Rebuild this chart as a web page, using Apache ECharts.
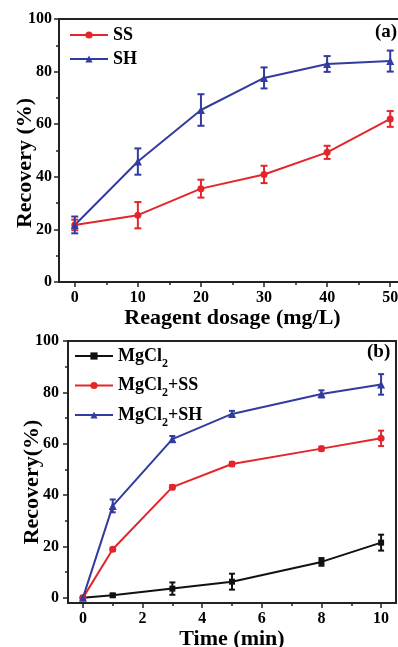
<!DOCTYPE html>
<html>
<head>
<meta charset="utf-8">
<script src="https://cdn.jsdelivr.net/npm/echarts@6/dist/echarts.min.js"></script>
<style>
  html, body { margin: 0; padding: 0; background: #fff; }
  #chart { width: 398px; height: 647px; }
</style>
</head>
<body>
<div id="chart"></div>
<script>
// Panel (a): recovery vs reagent dosage
const dosage = [0, 10, 20, 30, 40, 50];
const ssRecovery = [21.7, 25.4, 35.5, 40.9, 49.3, 62.0];
const ssError = [2.0, 5.0, 3.4, 3.3, 2.5, 3.0];
const shRecovery = [21.7, 45.8, 65.4, 77.6, 82.9, 84.0];
const shError = [3.2, 5.0, 6.0, 4.0, 3.0, 4.0];

// Panel (b): recovery vs flotation time
const time = [0, 1, 3, 5, 8, 10];
const mgRecovery = [0, 1.0, 3.6, 6.3, 14.0, 21.5];
const mgError = [0, 0.5, 2.4, 3.1, 1.5, 3.1];
const mgSsRecovery = [0, 18.9, 43.1, 52.1, 58.1, 62.1];
const mgSsError = [0, 0.6, 0.8, 0.8, 0.8, 3.0];
const mgShRecovery = [0, 35.8, 61.8, 71.6, 79.4, 83.1];
const mgShError = [0, 2.5, 1.2, 1.2, 1.4, 4.0];

// Tick positions
const topXTicks = [0, 10, 20, 30, 40, 50];
const topXMinor = [5, 15, 25, 35, 45];
const botXTicks = [0, 2, 4, 6, 8, 10];
const botXMinor = [1, 3, 5, 7, 9];
const yTicks = [0, 20, 40, 60, 80, 100];
const yMinor = [10, 30, 50, 70, 90];

const RED = '#e3262b';
const BLUE = '#323c9e';
const BLACK = '#111111';
const AXIS = '#222222';
const FONT = '"Liberation Serif", "Times New Roman", serif';

const chart = echarts.init(document.getElementById('chart'), null, { renderer: 'canvas' });

function pairs(xs, ys) { return xs.map((x, i) => [x, ys[i]]); }
function bars(xs, ys, es) { return xs.map((x, i) => [x, ys[i] - es[i], ys[i] + es[i]]); }

function errorSeries(xIdx, yIdx, data, color, cap) {
  return {
    type: 'custom',
    xAxisIndex: xIdx,
    yAxisIndex: yIdx,
    z: 2,
    silent: true,
    data: data,
    encode: { x: 0, y: [1, 2] },
    renderItem: function (params, api) {
      const lo = api.coord([api.value(0), api.value(1)]);
      const hi = api.coord([api.value(0), api.value(2)]);
      const st = { stroke: color, lineWidth: 2 };
      return {
        type: 'group',
        children: [
          { type: 'line', shape: { x1: lo[0], y1: lo[1], x2: hi[0], y2: hi[1] }, style: st },
          { type: 'line', shape: { x1: lo[0] - cap, y1: lo[1], x2: lo[0] + cap, y2: lo[1] }, style: st },
          { type: 'line', shape: { x1: hi[0] - cap, y1: hi[1], x2: hi[0] + cap, y2: hi[1] }, style: st }
        ]
      };
    }
  };
}

function lineSeries(name, xIdx, yIdx, data, color, symbol, size) {
  return {
    name: name,
    type: 'line',
    xAxisIndex: xIdx,
    yAxisIndex: yIdx,
    z: 3,
    data: data,
    symbol: symbol,
    symbolSize: size,
    showAllSymbol: true,
    itemStyle: { color: color },
    lineStyle: { color: color, width: 2 },
    emphasis: { disabled: true }
  };
}

function mainX(gridIndex, min, max, ticks, name, gap) {
  return {
    type: 'value', gridIndex: gridIndex, min: min, max: max, position: 'bottom',
    name: name, nameLocation: 'middle', nameGap: gap,
    nameTextStyle: { fontFamily: FONT, fontWeight: 'bold', fontSize: 22, color: '#000' },
    axisLine: { show: true, onZero: false, lineStyle: { color: AXIS, width: 2 } },
    axisTick: { show: true, inside: false, length: 5, customValues: ticks, lineStyle: { color: AXIS, width: 1.5 } },
    axisLabel: { show: true, margin: 8, customValues: ticks, fontFamily: FONT, fontWeight: 'bold', fontSize: 16, color: '#000' },
    splitLine: { show: false }
  };
}
function minorX(gridIndex, min, max, ticks) {
  return {
    type: 'value', gridIndex: gridIndex, min: min, max: max, position: 'bottom',
    axisLine: { show: false, onZero: false },
    axisTick: { show: true, inside: false, length: 3, customValues: ticks, lineStyle: { color: AXIS, width: 1.5 } },
    axisLabel: { show: false, customValues: ticks },
    splitLine: { show: false }
  };
}
function mainY(gridIndex, min, max, ticks, margin) {
  return {
    type: 'value', gridIndex: gridIndex, min: min, max: max, position: 'left',
    axisLine: { show: true, onZero: false, lineStyle: { color: AXIS, width: 2 } },
    axisTick: { show: true, inside: false, length: 5, customValues: ticks, lineStyle: { color: AXIS, width: 1.5 } },
    axisLabel: { show: true, margin: margin, customValues: ticks, fontFamily: FONT, fontWeight: 'bold', fontSize: 16, color: '#000' },
    splitLine: { show: false }
  };
}
function minorY(gridIndex, min, max, ticks) {
  return {
    type: 'value', gridIndex: gridIndex, min: min, max: max, position: 'left',
    axisLine: { show: false, onZero: false },
    axisTick: { show: true, inside: false, length: 3, customValues: ticks, lineStyle: { color: AXIS, width: 1.5 } },
    axisLabel: { show: false, customValues: ticks },
    splitLine: { show: false }
  };
}

function mgName(name) {
  const rest = name.split('MgCl2')[1];
  return '{t|MgCl}{s|2}' + (rest ? '{t|' + rest + '}' : '');
}

const legendText = { fontFamily: FONT, fontWeight: 'bold', fontSize: 18, color: '#000' };

const option = {
  animation: false,
  backgroundColor: '#fff',
  grid: [
    { left: 59, top: 19, width: 347, height: 263, show: true, borderColor: AXIS, borderWidth: 2, outerBoundsMode: 'none' },
    { left: 68, top: 341, width: 328, height: 262, show: true, borderColor: AXIS, borderWidth: 2, outerBoundsMode: 'none' }
  ],
  xAxis: [
    mainX(0, -2.5, 52.5, topXTicks, 'Reagent dosage (mg/L)', 24),
    minorX(0, -2.5, 52.5, topXMinor),
    mainX(1, -0.5, 10.5, botXTicks, 'Time (min)', 23),
    minorX(1, -0.5, 10.5, botXMinor)
  ],
  yAxis: [
    mainY(0, 0, 100, yTicks, 7),
    minorY(0, 0, 100, yMinor),
    mainY(1, -2, 100, yTicks, 9),
    minorY(1, -2, 100, yMinor)
  ],
  legend: [
    {
      data: ['SS', 'SH'],
      orient: 'vertical', left: 64, top: 21,
      itemWidth: 38, itemHeight: 9, itemGap: 6,
      textStyle: legendText,
      selectedMode: false
    },
    {
      data: ['MgCl2', 'MgCl2+SS', 'MgCl2+SH'],
      orient: 'vertical', left: 69, top: 342,
      itemWidth: 38, itemHeight: 9, itemGap: 7,
      formatter: mgName,
      textStyle: Object.assign({}, legendText, {
        rich: {
          t: { fontFamily: FONT, fontWeight: 'bold', fontSize: 18, color: '#000' },
          s: { fontFamily: FONT, fontWeight: 'bold', fontSize: 12, color: '#000', padding: [15, 0, 0, 0], verticalAlign: 'bottom' }
        }
      }),
      selectedMode: false
    }
  ],
  graphic: [
    { type: 'text', x: 25, y: 163, rotation: Math.PI / 2,
      style: { text: 'Recovery (%)', align: 'center', verticalAlign: 'middle', font: 'bold 22px ' + FONT, fill: '#000' } },
    { type: 'text', x: 32, y: 482, rotation: Math.PI / 2,
      style: { text: 'Recovery(%)', align: 'center', verticalAlign: 'middle', font: 'bold 22px ' + FONT, fill: '#000' } },
    { type: 'text', left: 375, top: 23,
      style: { text: '(a)', font: 'bold 19px ' + FONT, fill: '#000' } },
    { type: 'text', left: 367, top: 343,
      style: { text: '(b)', font: 'bold 19px ' + FONT, fill: '#000' } }
  ],
  series: [
    errorSeries(0, 0, bars(dosage, ssRecovery, ssError), RED, 3.5),
    errorSeries(0, 0, bars(dosage, shRecovery, shError), BLUE, 3.5),
    lineSeries('SS', 0, 0, pairs(dosage, ssRecovery), RED, 'circle', 7),
    lineSeries('SH', 0, 0, pairs(dosage, shRecovery), BLUE, 'triangle', 8),

    errorSeries(2, 2, bars(time, mgRecovery, mgError), BLACK, 3),
    errorSeries(2, 2, bars(time, mgSsRecovery, mgSsError), RED, 3),
    errorSeries(2, 2, bars(time, mgShRecovery, mgShError), BLUE, 3),
    lineSeries('MgCl2', 2, 2, pairs(time, mgRecovery), BLACK, 'rect', 6),
    lineSeries('MgCl2+SS', 2, 2, pairs(time, mgSsRecovery), RED, 'circle', 7),
    lineSeries('MgCl2+SH', 2, 2, pairs(time, mgShRecovery), BLUE, 'triangle', 8)
  ]
};

chart.setOption(option);
</script>
</body>
</html>
